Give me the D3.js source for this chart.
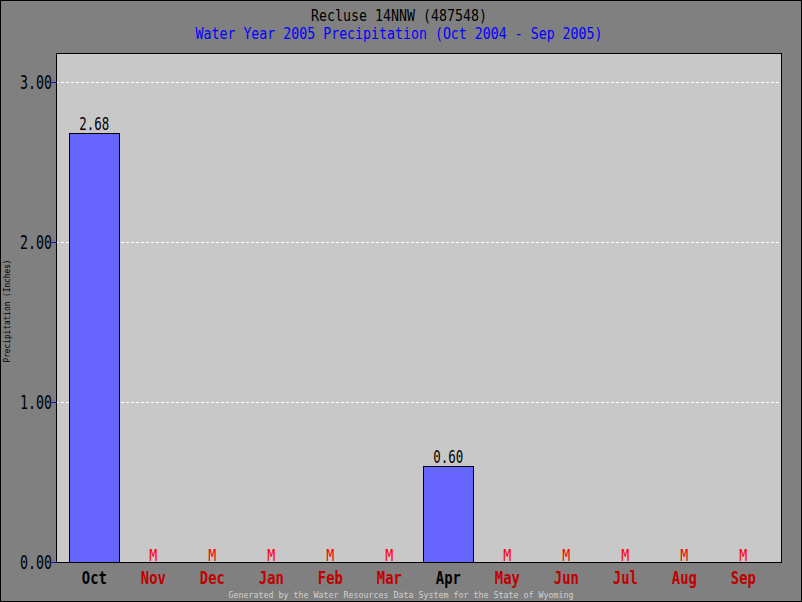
<!DOCTYPE html>
<html><head><meta charset="utf-8">
<script src="https://cdn.jsdelivr.net/npm/d3@7"></script>
<style>body{margin:0;background:#fff}svg{display:block}</style>
</head><body>
<script>
const months = ["Oct","Nov","Dec","Jan","Feb","Mar","Apr","May","Jun","Jul","Aug","Sep"];
const values = [2.68, null, null, null, null, null, 0.60, null, null, null, null, null];
const yTicks = [0, 1, 2, 3];
const title = "Recluse 14NNW (487548)";
const subtitle = "Water Year 2005 Precipitation (Oct 2004 - Sep 2005)";
const yTitle = "Precipitation (Inches)";
const footer = "Generated by the Water Resources Data System for the State of Wyoming";

const W = 802, H = 602;
const plot = {l: 56, t: 53, r: 781, b: 562};
const mono = "'DejaVu Sans Mono', 'Liberation Mono', monospace";

const svg = d3.select("body").append("svg").attr("width", W).attr("height", H);
svg.append("rect").attr("x",0.5).attr("y",0.5).attr("width",W-1).attr("height",H-1)
  .attr("fill","#808080").attr("stroke","#000");
svg.append("rect").attr("x",plot.l).attr("y",plot.t).attr("width",plot.r-plot.l).attr("height",plot.b-plot.t)
  .attr("fill","#c8c8c8");

const x = d3.scaleBand().domain(months).range([64.8, 772.8]).padding(0);
const cx = m => x(m) + x.bandwidth()/2;
const barW = 50;
const y = d3.scaleLinear().domain([0, 3]).range([562, 82]);

// grid
svg.append("g").selectAll("line").data(yTicks.filter(d=>d>0)).join("line")
  .attr("x1", plot.l).attr("x2", plot.r).attr("y1", d=>Math.round(y(d))+0.5).attr("y2", d=>Math.round(y(d))+0.5)
  .attr("stroke","#fff").attr("stroke-dasharray","3,2");

// bars
const data = months.map((m,i)=>({m, v: values[i]}));
svg.append("g").selectAll("rect").data(data.filter(d=>d.v!=null)).join("rect")
  .attr("x", d=>Math.round(cx(d.m)-barW/2)+0.5).attr("y", d=>Math.round(y(d.v))+0.5)
  .attr("width", barW).attr("height", d=>y(0)-Math.round(y(d.v)))
  .attr("fill","#6666ff").attr("stroke","#000");
svg.append("g").selectAll("text").data(data.filter(d=>d.v!=null)).join("text")
  .attr("x", d=>cx(d.m)).attr("y", d=>y(d.v)-3)
  .attr("text-anchor","middle").attr("font-family",mono).attr("font-size",18).attr("fill","#000")
  .attr("textLength",30).attr("lengthAdjust","spacingAndGlyphs")
  .text(d=>d.v.toFixed(2));
// missing markers
svg.append("g").selectAll("text").data(data.filter(d=>d.v==null)).join("text")
  .attr("x", d=>cx(d.m)).attr("y", y(0)-1)
  .attr("text-anchor","middle").attr("font-family",mono).attr("font-size",16).attr("fill","#ff0000")
  .attr("textLength",8).attr("lengthAdjust","spacingAndGlyphs")
  .text("M");

// plot frame
svg.append("rect").attr("x",plot.l+0.5).attr("y",plot.t+0.5).attr("width",plot.r-plot.l).attr("height",plot.b-plot.t)
  .attr("fill","none").attr("stroke","#000");

// y axis ticks and labels
const yAxis = svg.append("g");
yAxis.selectAll("line").data(yTicks).join("line")
  .attr("x1", plot.l-4).attr("x2", plot.l).attr("y1", d=>Math.round(y(d))+0.5).attr("y2", d=>Math.round(y(d))+0.5)
  .attr("stroke","#0000ff");
yAxis.selectAll("text").data(yTicks).join("text")
  .attr("x", 52).attr("y", d=>y(d)+7)
  .attr("text-anchor","end").attr("font-family",mono).attr("font-size",19).attr("fill","#000")
  .attr("textLength",32).attr("lengthAdjust","spacingAndGlyphs")
  .text(d=>d3.format(".2f")(d));

// x labels
svg.append("g").selectAll("text").data(data).join("text")
  .attr("x", d=>cx(d.m)).attr("y", 584)
  .attr("text-anchor","middle").attr("font-family",mono).attr("font-size",18).attr("font-weight","bold")
  .attr("textLength",25).attr("lengthAdjust","spacingAndGlyphs")
  .attr("fill", d=>d.v==null ? "#c00000" : "#000")
  .text(d=>d.m);

// titles
svg.append("text").attr("x", 399).attr("y", 21).attr("text-anchor","middle")
  .attr("font-family",mono).attr("font-size",15).attr("fill","#000")
  .attr("textLength",176).attr("lengthAdjust","spacingAndGlyphs").text(title);
svg.append("text").attr("x", 399).attr("y", 39).attr("text-anchor","middle")
  .attr("font-family",mono).attr("font-size",15).attr("fill","#0000ff")
  .attr("textLength",407).attr("lengthAdjust","spacingAndGlyphs").text(subtitle);
svg.append("text").attr("transform","translate(10,311) rotate(-90)").attr("text-anchor","middle")
  .attr("font-family",mono).attr("font-size",8).attr("fill","#000")
  .attr("textLength",103).attr("lengthAdjust","spacingAndGlyphs").text(yTitle);
svg.append("text").attr("x", 401).attr("y", 598).attr("text-anchor","middle")
  .attr("font-family",mono).attr("font-size",8).attr("fill","#d0d0d0")
  .attr("textLength",345).attr("lengthAdjust","spacingAndGlyphs").text(footer);
</script>
</body></html>
